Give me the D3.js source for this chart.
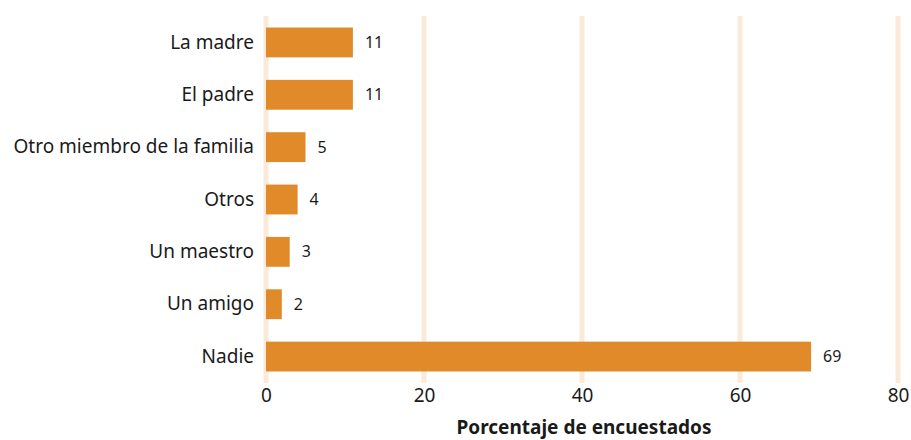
<!DOCTYPE html>
<html>
<head>
<meta charset="utf-8">
<script src="https://cdn.jsdelivr.net/npm/d3@7"></script>
<style>
  html, body { margin: 0; padding: 0; background: #ffffff; }
  svg { display: block; font-family: "Noto Sans", "Open Sans", sans-serif; }
</style>
</head>
<body>
<svg id="chart" width="911" height="440"></svg>
<script>
const categories = ["La madre", "El padre", "Otro miembro de la familia", "Otros", "Un maestro", "Un amigo", "Nadie"];
const values = [11, 11, 5, 4, 3, 2, 69];
const xTicks = [0, 20, 40, 60, 80];
const xTitle = "Porcentaje de encuestados";

const svg = d3.select("#chart");
const x = d3.scaleLinear().domain([0, 80]).range([266, 898]);
const y = d3.scaleBand().domain(categories).range([16, 383]).paddingInner(0.43).paddingOuter(0.22);

// vertical gridlines
svg.append("g").selectAll("line").data(xTicks).join("line")
  .attr("x1", d => x(d)).attr("x2", d => x(d))
  .attr("y1", 16).attr("y2", 383)
  .attr("stroke", "#fbe9da").attr("stroke-width", 5);

// bars
svg.append("g").selectAll("rect").data(values).join("rect")
  .attr("x", x(0))
  .attr("y", (d, i) => y(categories[i]))
  .attr("width", d => x(d) - x(0))
  .attr("height", y.bandwidth())
  .attr("fill", "#e08a2a");

// value labels
svg.append("g").selectAll("text").data(values).join("text")
  .attr("x", d => x(d) + 12)
  .attr("y", (d, i) => y(categories[i]) + y.bandwidth() / 2)
  .attr("dy", "0.35em")
  .attr("font-size", 16)
  .attr("fill", "#1a1a1a")
  .text(d => d);

// category axis
const yAxis = svg.append("g").attr("transform", "translate(262,0)")
  .call(d3.axisLeft(y).tickSize(0).tickPadding(8));
yAxis.select(".domain").remove();
yAxis.selectAll("text").attr("font-size", 19).attr("fill", "#1a1a1a")
  .style("font-family", "\"Noto Sans\", sans-serif");

// value axis
const xAxis = svg.append("g").attr("transform", "translate(0,384)")
  .call(d3.axisBottom(x).tickValues(xTicks).tickSize(0).tickPadding(4));
xAxis.select(".domain").remove();
xAxis.selectAll("text").attr("font-size", 19).attr("fill", "#1a1a1a")
  .style("font-family", "\"Noto Sans\", sans-serif");

// axis title
svg.append("text")
  .attr("x", 584).attr("y", 434)
  .attr("text-anchor", "middle")
  .attr("font-size", 19).attr("font-weight", "bold")
  .attr("fill", "#1a1a1a")
  .text(xTitle);
</script>
</body>
</html>
